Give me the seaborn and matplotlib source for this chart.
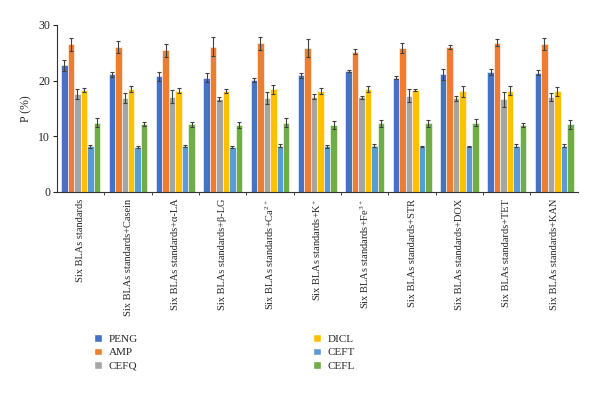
import numpy as np
import pandas as pd
import seaborn as sns
import matplotlib.pyplot as plt
from matplotlib.patches import Patch

# ---- data ----
groups = ["Six BLAs standards", "Six BLAs standards+Casein", "Six BLAs standards+\u03b1-LA",
          "Six BLAs standards+\u03b2-LG", "Six BLAs standards+Ca$^{2+}$", "Six BLAs standards+K$^{+}$",
          "Six BLAs standards+Fe$^{3+}$", "Six BLAs standards+STR", "Six BLAs standards+DOX",
          "Six BLAs standards+TET", "Six BLAs standards+KAN"]
drugs = ["PENG", "AMP", "CEFQ", "DICL", "CEFT", "CEFL"]
colors = ["#4472C4", "#ED7D31", "#A5A5A5", "#FFC000", "#5B9BD5", "#70AD47"]

peng = [22.7, 21.1, 20.8, 20.5, 20.1, 20.9, 21.7, 20.5, 21.1, 21.5, 21.4]
amp = [26.5, 26.0, 25.4, 26.1, 26.7, 25.8, 25.2, 25.9, 26.0, 26.8, 26.6]
cefq = [17.5, 16.9, 17.1, 16.7, 16.9, 17.1, 17.0, 17.3, 16.8, 16.6, 17.1]
dicl = [18.3, 18.5, 18.2, 18.1, 18.4, 18.1, 18.5, 18.3, 18.1, 18.2, 18.1]
ceft = [8.2, 8.0, 8.2, 8.1, 8.3, 8.2, 8.3, 8.1, 8.2, 8.3, 8.3]
cefl = [12.4, 12.2, 12.1, 12.0, 12.4, 12.0, 12.3, 12.3, 12.4, 12.0, 12.1]

peng_err = [1.0, 0.5, 0.8, 0.8, 0.4, 0.5, 0.2, 0.3, 1.0, 0.6, 0.5]
amp_err = [1.2, 1.1, 1.2, 1.7, 1.2, 1.6, 0.5, 0.9, 0.4, 0.6, 1.1]
cefq_err = [0.9, 0.9, 1.2, 0.3, 1.1, 0.5, 0.3, 1.1, 0.4, 1.3, 0.7]
dicl_err = [0.3, 0.5, 0.5, 0.4, 0.8, 0.5, 0.6, 0.2, 1.0, 0.8, 0.8]
ceft_err = [0.3, 0.2, 0.2, 0.2, 0.3, 0.3, 0.3, 0.1, 0.1, 0.3, 0.3]
cefl_err = [0.8, 0.4, 0.5, 0.5, 0.8, 0.7, 0.6, 0.6, 0.6, 0.3, 0.8]

values = [peng, amp, cefq, dicl, ceft, cefl]
errors = [peng_err, amp_err, cefq_err, dicl_err, ceft_err, cefl_err]

rows = []
for d, vals, errs in zip(drugs, values, errors):
    for g, v, e in zip(groups, vals, errs):
        rows.append({"group": g, "drug": d, "P": v, "err": e})
df = pd.DataFrame(rows)

sns.set_style("white")
plt.rcParams["font.family"] = ["Liberation Serif", "DejaVu Serif"]
plt.rcParams["mathtext.default"] = "regular"

fig = plt.figure(figsize=(6, 3.94), dpi=100)
ax = fig.add_axes([0.095, 0.513, 0.868, 0.424])

sns.barplot(data=df, x="group", y="P", hue="drug", order=groups, hue_order=drugs,
            palette=colors, errorbar=None, width=0.82, saturation=1, ax=ax, legend=False)

# error bars at the bar centres seaborn drew
for k, d in enumerate(drugs):
    cont = ax.containers[k]
    xs = [p.get_x() + p.get_width() / 2 for p in cont.patches]
    hs = [p.get_height() for p in cont.patches]
    ax.errorbar(xs, hs, yerr=errors[k], fmt="none", ecolor="#404040",
                elinewidth=0.8, capsize=1.6, capthick=0.8)

for p in ax.patches:
    p.set_edgecolor("white")
    p.set_linewidth(0.4)

ax.set_ylim(0, 30)
ax.set_yticks([0, 10, 20, 30])
ax.set_xlim(-0.5, len(groups) - 0.5)
ax.set_ylabel("P (%)", fontsize=8.5)
ax.set_xlabel("")
ax.tick_params(axis="y", labelsize=8.5, length=3, width=0.8, direction="out", left=True, pad=2)
ax.set_xticks(range(len(groups)))
ax.set_xticklabels(groups, rotation=90, fontsize=7.5, va="top")
ax.tick_params(axis="x", which="major", length=0, pad=5)
ax.set_xticks(np.arange(0.5, len(groups) - 0.5, 1), minor=True)
ax.tick_params(axis="x", which="minor", length=2.5, width=0.6, direction="out", bottom=True)

sns.despine(ax=ax)
for s in ["left", "bottom"]:
    ax.spines[s].set_color("#333333")
    ax.spines[s].set_linewidth(0.8)

handles = [Patch(facecolor=c, label=d) for c, d in zip(colors, drugs)]
fig.legend(handles=handles, ncol=2, loc="upper left", bbox_to_anchor=(0.14, 0.178),
           bbox_transform=fig.transFigure, frameon=False, fontsize=8,
           handlelength=0.7, handleheight=0.7, handletextpad=0.6,
           labelspacing=0.35, columnspacing=15.8)

fig.savefig("out.png", dpi=100)
